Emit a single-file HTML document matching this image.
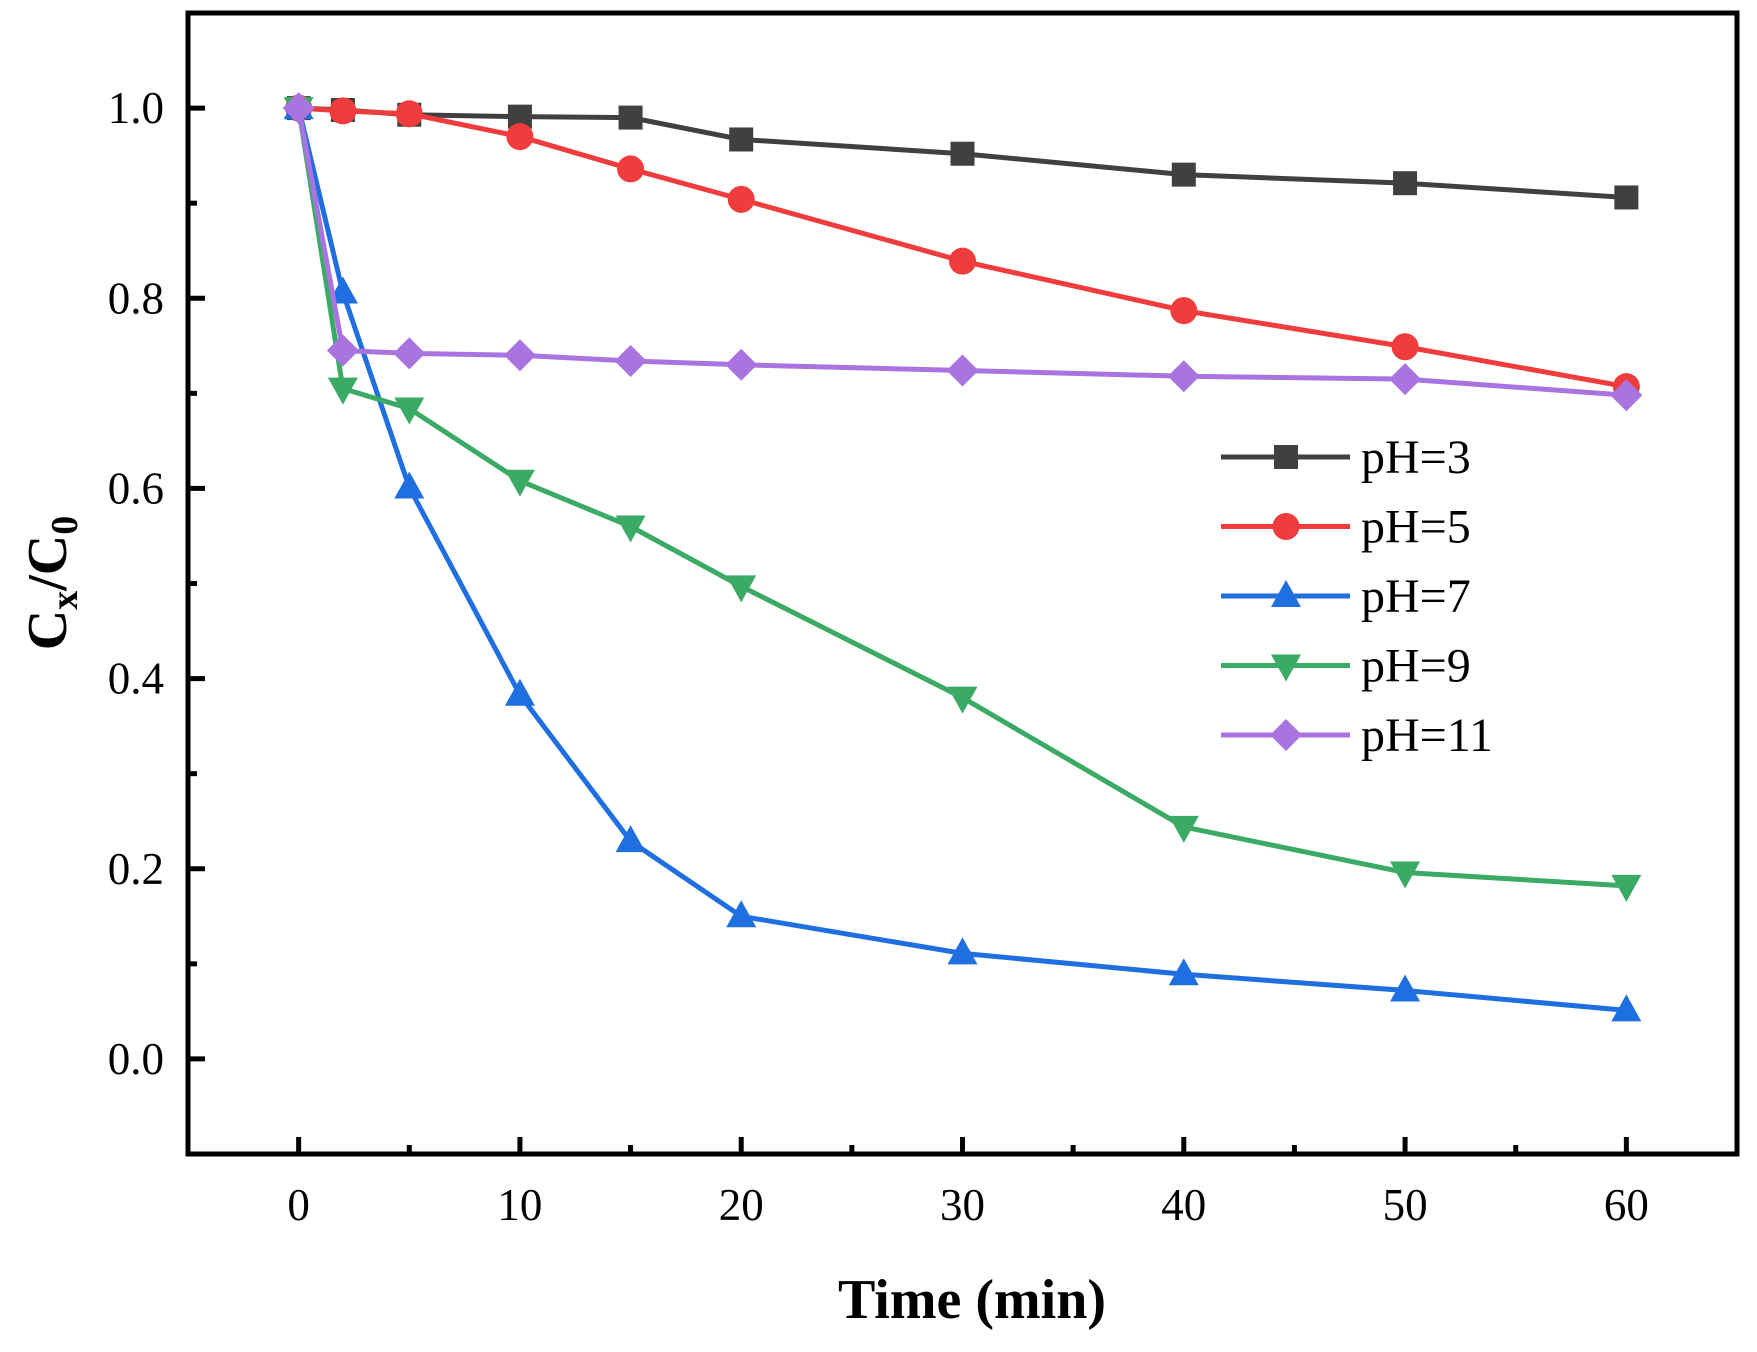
<!DOCTYPE html>
<html><head><meta charset="utf-8"><style>
body{margin:0;background:#fff}
svg text{font-family:"Liberation Serif",serif}
</style></head><body>
<svg id="chart" width="1757" height="1347" viewBox="0 0 1757 1347" xmlns="http://www.w3.org/2000/svg">
<rect width="1757" height="1347" fill="#fff"/>
<g id="plot"></g>
</svg>
<script>
const times=[0,2,5,10,15,20,30,40,50,60];
const seriesNames=["pH=3","pH=5","pH=7","pH=9","pH=11"];
const ph3=[1.0,0.998,0.993,0.991,0.990,0.967,0.952,0.930,0.921,0.906];
const ph5=[1.0,0.997,0.994,0.970,0.936,0.904,0.839,0.787,0.749,0.707];
const ph7=[1.0,0.806,0.601,0.383,0.229,0.150,0.111,0.089,0.072,0.051];
const ph9=[1.0,0.705,0.684,0.608,0.560,0.497,0.380,0.244,0.196,0.182];
const ph11=[1.0,0.745,0.742,0.740,0.734,0.730,0.724,0.718,0.715,0.698];
const xTicks=[0,10,20,30,40,50,60];
const yTicks=[0.0,0.2,0.4,0.6,0.8,1.0];

const NS="http://www.w3.org/2000/svg";
const L=188,R=1737,T=13,B=1154;
const X=v=>L+(v+5)/70*(R-L);
const Y=v=>B-(v+0.1)/1.2*(B-T);
const g=document.getElementById('plot');
function mk(tag,attrs,parent){const e=document.createElementNS(NS,tag);for(const k in attrs)e.setAttribute(k,attrs[k]);(parent||g).appendChild(e);return e;}

const colors=["#404040","#f03c3c","#1f6fe0","#3aaa64","#a974e0"];
const shapes=["square","circle","tri","itri","diamond"];
const data=[ph3,ph5,ph7,ph9,ph11];

function marker(shape,x,y,color,parent){
  let e;const s=12;
  if(shape==="square")e=mk('rect',{x:x-s,y:y-s,width:2*s,height:2*s,fill:color},parent);
  else if(shape==="circle")e=mk('circle',{cx:x,cy:y,r:13.5,fill:color},parent);
  else if(shape==="tri")e=mk('polygon',{points:`${x},${y-16} ${x+15},${y+11} ${x-15},${y+11}`,fill:color},parent);
  else if(shape==="itri")e=mk('polygon',{points:`${x},${y+16} ${x+15},${y-11} ${x-15},${y-11}`,fill:color},parent);
  else e=mk('polygon',{points:`${x},${y-16} ${x+16},${y} ${x},${y+16} ${x-16},${y}`,fill:color},parent);
  return e;
}

data.forEach((arr,i)=>{
  const sg=mk('g',{});
  
  
  const pts=arr.map((v,j)=>X(times[j])+','+Y(v)).join(' ');
  const pl=mk('polyline',{points:pts,fill:'none',stroke:colors[i],'stroke-width':5},sg);
  
  
  arr.forEach((v,j)=>{
    const m=marker(shapes[i],X(times[j]),Y(v),colors[i],sg);
    
    
  });
});

const fr=mk('rect',{x:L,y:T,width:R-L,height:B-T,fill:'none',stroke:'#000','stroke-width':5});



for(let v=-5;v<=65;v+=5){
  const major=xTicks.includes(v);
  if(v===-5||v===65)continue;
  const t=mk('line',{x1:X(v),x2:X(v),y1:B,y2:B-(major?17:9),stroke:'#000','stroke-width':5});
  
  
}
xTicks.forEach(v=>{
  const t=mk('text',{x:X(v),y:1220,'text-anchor':'middle','font-size':45});
  t.textContent=v;
  
  
});
for(let k=-1;k<=11;k++){
  const v=k/10;
  const major=k%2===0&&k>=0&&k<=10;
  if(k===-1||k===11)continue;
  const t=mk('line',{x1:L,x2:L+(major?17:9),y1:Y(v),y2:Y(v),stroke:'#000','stroke-width':5});
  
  
}
yTicks.forEach(v=>{
  const t=mk('text',{x:164,y:Y(v)+15,'text-anchor':'end','font-size':45});
  t.textContent=v.toFixed(1);
  
  
});

const xt=mk('text',{x:972,y:1318,'text-anchor':'middle','font-size':56,'font-weight':'bold'});
xt.textContent='Time (min)';


const yt=mk('text',{x:0,y:0,'text-anchor':'middle','font-size':56,'font-weight':'bold',transform:'translate(66,583) rotate(-90)'});
yt.innerHTML='C<tspan font-size="38" dy="11">x</tspan><tspan dy="-11">/C</tspan><tspan font-size="38" dy="11">0</tspan>';



const lg=mk('g',{});


seriesNames.forEach((n,i)=>{
  const y=457+i*69.5;
  const eg=mk('g',{},lg);
  
  
  mk('line',{x1:1221,x2:1350,y1:y,y2:y,stroke:colors[i],'stroke-width':5},eg);
  marker(shapes[i],1286,y,colors[i],eg);
  const t=mk('text',{x:1361,y:y+16,'font-size':48},eg);
  t.textContent=n;
});
</script>
</body></html>
